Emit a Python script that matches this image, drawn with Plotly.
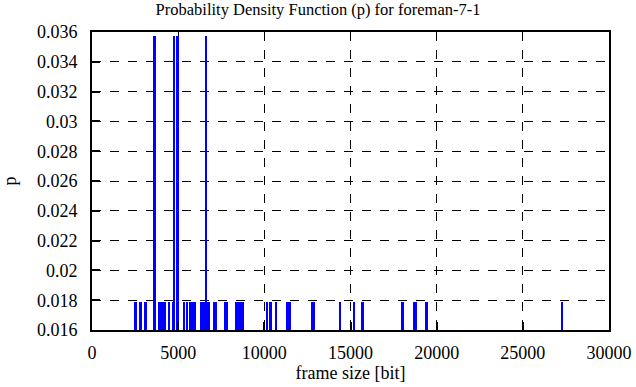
import plotly.graph_objects as go

short_sizes = [2540, 2830, 3120,
               3900, 4000, 4110, 4220,
               4500, 4700,
               5340, 5530,
               5730, 5850, 6000,
               6350, 6480,
               6770,
               7080, 7200,
               7720, 7820,
               8400, 8570, 8750,
               10170, 10370, 10710, 11350, 11480, 12780, 12880,
               14390, 15200, 15710, 18030, 18680, 18800, 19420, 27290]
tall_sizes = [3640, 4790, 4970, 6620]
p_short = 0.017857
p_tall = 0.035714

x_vals = short_sizes + tall_sizes
y_vals = [p_short] * len(short_sizes) + [p_tall] * len(tall_sizes)

x_ticks = [0, 5000, 10000, 15000, 20000, 25000, 30000]
y_ticks = [0.016, 0.018, 0.02, 0.022, 0.024, 0.026, 0.028, 0.03, 0.032, 0.034, 0.036]
y_labels = ["0.016", "0.018", "0.02", "0.022", "0.024", "0.026", "0.028", "0.03", "0.032", "0.034", "0.036"]

font_family = "Liberation Serif, Times New Roman, serif"

fig = go.Figure()
fig.add_trace(go.Bar(x=x_vals, y=y_vals, width=100, marker=dict(color="#0000ff", line=dict(width=0)),
                     showlegend=False))

fig.update_layout(
    width=636, height=387,
    margin=dict(l=92, r=27, t=32, b=57),
    paper_bgcolor="white", plot_bgcolor="white",
    font=dict(family=font_family, size=18, color="black"),
    title=dict(text="Probability Density Function (p) for foreman-7-1", x=0.5, xanchor="center",
               y=0.99, yanchor="top", font=dict(size=16.5, family=font_family)),
    bargap=0,
)
fig.update_xaxes(range=[0, 30000], tickvals=x_ticks, ticktext=[str(t) for t in x_ticks],
                 showline=True, linecolor="black", linewidth=2, mirror=True,
                 ticks="inside", ticklen=8, tickcolor="black", tickwidth=2,
                 showgrid=True, gridcolor="black", gridwidth=1, griddash="dash",
                 zeroline=False, automargin=False, ticklabelstandoff=5,
                 title=dict(text="frame size [bit]", standoff=2, font=dict(size=18)))
fig.update_yaxes(range=[0.016, 0.036], tickvals=y_ticks, ticktext=y_labels,
                 showline=True, linecolor="black", linewidth=2, mirror=True,
                 ticks="inside", ticklen=8, tickcolor="black", tickwidth=2,
                 showgrid=True, gridcolor="black", gridwidth=1, griddash="dash",
                 zeroline=False, automargin=False, ticklabelstandoff=9,
                 title=dict(text="p", standoff=16, font=dict(size=18)))

fig.write_html("out.html", config={"displayModeBar": False},
               post_script="document.body.style.margin='0px';")
